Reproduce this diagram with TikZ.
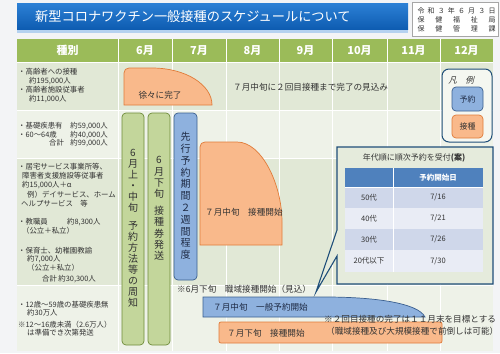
\documentclass[tikz,border=0pt]{standalone}
\usepackage{fontspec}
\setmainfont{Noto Sans CJK JP}
\definecolor{pagebg}{HTML}{F3F4F6}
\definecolor{hdrgreen}{HTML}{9BBB59}
\definecolor{rowA}{HTML}{E1E8D6}
\definecolor{rowB}{HTML}{EEF2E8}
\definecolor{orfill}{HTML}{F9B98B}
\definecolor{ordraw}{HTML}{E07B39}
\definecolor{grfill}{HTML}{C3D69B}
\definecolor{grdraw}{HTML}{6E8C3A}
\definecolor{blfill}{HTML}{8EB1DE}
\definecolor{bldraw}{HTML}{3A5F8F}
\definecolor{navy}{HTML}{1F4E79}
\definecolor{txt}{HTML}{333333}
\definecolor{bltxt}{HTML}{1E2A44}
\definecolor{tblhead}{HTML}{4F81BD}
\definecolor{tblodd}{HTML}{CFD7EA}
\definecolor{tbleven}{HTML}{E9ECF5}
\definecolor{callfill}{HTML}{E5EBDC}
\definecolor{titletop}{HTML}{2B7FD4}
\definecolor{titlebot}{HTML}{0D5BB0}
\tikzset{
 lefttxt/.style={anchor=west, inner sep=0, font=\fontsize{7.4}{8}\selectfont, text=txt},
 lefttxtr/.style={anchor=east, inner sep=0, font=\fontsize{7.4}{8}\selectfont, text=txt},
 lbl/.style={inner sep=0, font=\fontsize{8.6}{10}\selectfont, text=txt},
 hdr/.style={inner sep=0, font=\fontsize{11}{13}\selectfont\bfseries, text=white},
 orshape/.style={fill=orfill, draw=ordraw, line width=0.7pt},
 blshape/.style={fill=blfill, draw=bldraw, line width=0.7pt},
 grbar/.style={fill=grfill, draw=grdraw, line width=0.7pt, rounded corners=4pt, inner sep=0},
 blbar/.style={fill=blfill, draw=bldraw, line width=0.7pt, rounded corners=4pt, inner sep=0},
 vtxt/.style={inner sep=0, align=center, text=txt},
 datetxt/.style={inner sep=0, font=\fontsize{7}{8}\selectfont, text=txt},
 tcell/.style={inner sep=0, font=\fontsize{7.5}{9}\selectfont, text=txt},
 grid/.style={white, line width=0.8pt},
}
\begin{document}
\begin{tikzpicture}[x=1pt,y=-1pt]
\useasboundingbox (0,0) rectangle (500,353);
\fill[pagebg] (0,0) rectangle (500,353);
% title
\fill[titletop!35] (17,28) rectangle (408,33);
\shade[top color=titletop, bottom color=titlebot] (17,4) rectangle (408,30);
\node[anchor=west, inner sep=0, text=white, font=\fontsize{13.2}{15}\selectfont] (title) at (35,17) {新型コロナワクチン一般接種のスケジュールについて};
% date box
\draw[gray!70, fill=white, line width=0.6pt] (412,2) rectangle (498,36);
\node[datetxt] (d1) at (456.5,11) {\makebox[78pt][s]{令\hfill 和\hfill ３\hfill 年\hfill ６\hfill 月\hfill ３\hfill 日}};
\node[datetxt] (d2) at (456.5,20) {\makebox[78pt][s]{保\hfill 健\hfill 福\hfill 祉\hfill 局}};
\node[datetxt] (d3) at (456.5,29) {\makebox[78pt][s]{保\hfill 健\hfill 管\hfill 理\hfill 課}};
% table background
\fill[hdrgreen] (17,39) rectangle (493,62);
\fill[rowA] (17,62) rectangle (493,110);
\fill[rowB] (17,110) rectangle (493,158);
\fill[rowA] (17,158) rectangle (493,285);
\fill[rowB] (17,285) rectangle (493,351);
\foreach \xx in {118,172,226,279,332,387,440} \draw[grid] (\xx,39) -- (\xx,351);
\foreach \yy in {62,110,158,285} \draw[grid] (17,\yy) -- (493,\yy);
% header
\node[hdr] (h0) at (67.5,50.5) {種別};
\node[hdr] (h6) at (145,50.5) {6月};
\node[hdr] (h7) at (199,50.5) {7月};
\node[hdr] (h8) at (252.5,50.5) {8月};
\node[hdr] (h9) at (305.5,50.5) {9月};
\node[hdr] (h10) at (359.5,50.5) {10月};
\node[hdr] (h11) at (413.5,50.5) {11月};
\node[hdr] (h12) at (466.5,50.5) {12月};
% left column texts
\node[lefttxt] (r1a) at (18,72) {・高齢者への接種};
\node[lefttxt] (r1b) at (29,81) {約195,000人};
\node[lefttxt] (r1c) at (18,90) {・高齢者施設従事者};
\node[lefttxt] (r1d) at (29,99) {約11,000人};
\node[lefttxt] (r2a) at (18,126) {・基礎疾患有};
\node[lefttxtr] (r2an) at (108,126) {約59,000人};
\node[lefttxt] (r2b) at (18,135) {・60～64歳};
\node[lefttxtr] (r2bn) at (108,135) {約40,000人};
\node[lefttxt] (r2c) at (49,143) {合計};
\node[lefttxtr] (r2cn) at (108,143) {約99,000人};
\node[lefttxt] (r3a) at (18,167) {・居宅サービス事業所等、};
\node[lefttxt] (r3b) at (22,176) {障害者支援施設等従事者};
\node[lefttxt] (r3c) at (22,185) {約15,000人＋α};
\node[lefttxt] (r3d) at (27,195) {例）デイサービス、ホーム};
\node[lefttxt] (r3e) at (21,204) {ヘルプサービス　等};
\node[lefttxt] (r3f) at (18,222) {・教職員};
\node[lefttxt] (r3fn) at (67,222) {約8,300人};
\node[lefttxt] (r3g) at (22,231) {（公立＋私立）};
\node[lefttxt] (r3h) at (18,251) {・保育士、幼稚園教諭};
\node[lefttxt] (r3i) at (27,259) {約7,000人};
\node[lefttxt] (r3j) at (27,268) {（公立＋私立）};
\node[lefttxt] (r3k) at (42,279) {合計};
\node[lefttxtr] (r3kn) at (96,279) {約30,300人};
\node[lefttxt] (r4a) at (18,305) {・12歳～59歳の基礎疾患無};
\node[lefttxt] (r4b) at (27,313) {約30万人};
\node[lefttxt] (r4c) at (18,325) {※12～16歳未満（2.6万人）};
\node[lefttxt] (r4d) at (27,333) {は準備でき次第発送};
% row 1 orange
\draw[orshape] (124,105) -- (124,73) .. controls (124,70) and (126,68) .. (129,68) -- (152,68) .. controls (186,68) and (212,85) .. (212,105) -- cycle;
\node[lbl] (gradual) at (160,95) {徐々に完了};
\node[lbl, anchor=west] (note1) at (233,87) {７月中旬に２回目接種まで完了の見込み};
% legend
\draw[navy, line width=1pt, fill=rowB!60!white, rounded corners=7pt] (442,69) rectangle (492,142);
\begin{scope}[shift={(462,80)}, xslant=0.25]
\node[transform shape, inner sep=0, font=\fontsize{8.5}{10}\selectfont, text=txt] (legtitle) at (0,0) {凡　例};
\end{scope}
\node[blbar, minimum width=31pt, minimum height=24pt, font=\fontsize{8}{10}\selectfont, text=bltxt] (legres) at (467.5,99) {予約};
\node[orshape, rounded corners=4pt, inner sep=0, minimum width=31pt, minimum height=23pt, font=\fontsize{8}{10}\selectfont, text=txt] (legvac) at (467.5,126.5) {接種};
% vertical bars
\node[grbar, minimum width=22pt, minimum height=232pt] (bar1) at (133,229) {};
\node[vtxt, font=\fontsize{10}{11}\selectfont] (bar1t) at (133,228) {6\\月\\上\\・\\中\\旬\\[7pt]予\\約\\方\\法\\等\\の\\周\\知};
\node[grbar, minimum width=22pt, minimum height=232pt] (bar2) at (159,229) {};
\node[vtxt, font=\fontsize{10}{11.2}\selectfont] (bar2t) at (159,208.5) {6\\月\\下\\旬\\[6pt]接\\種\\券\\発\\送};
\node[blbar, minimum width=23pt, minimum height=167pt] (bar3) at (185.5,196.5) {};
\node[vtxt, text=bltxt, font=\fontsize{10}{11.8}\selectfont] (bar3t) at (185.5,196) {先\\行\\予\\約\\期\\間\\２\\週\\間\\程\\度};
% row 3 orange
\draw[orshape] (200,245) -- (200,147) .. controls (200,144) and (202,142) .. (205,142) -- (237,142) .. controls (262,142) and (282,185) .. (282,222) -- (282,245) -- cycle;
\node[lbl, anchor=west] (vacjul) at (205,212) {７月中旬　接種開始};
% callout
\draw[navy, line width=1.1pt, fill=callfill, line join=miter] (337,147) -- (493,147) -- (493,284) -- (337,284) -- (337,256) -- (316,292) -- (337,230) -- cycle;
\node[inner sep=0, font=\fontsize{8}{10}\selectfont, text=txt] (calltitle) at (414,158) {年代順に順次予約を受付\textbf{(案)}};
\fill[tblhead] (345,168) rectangle (483,187);
\fill[tblodd] (345,187) rectangle (483,208);
\fill[tbleven] (345,208) rectangle (483,229);
\fill[tblodd] (345,229) rectangle (483,250);
\fill[tbleven] (345,250) rectangle (483,272);
\draw[white, line width=1pt] (393,168) -- (393,272);
\draw[white, line width=0.8pt] (345,187) -- (483,187);
\node[tcell, text=white, font=\fontsize{7.5}{9}\selectfont\bfseries] (thd) at (438,177.5) {予約開始日};
\node[tcell] (a50) at (369,197.5) {50代};
\node[tcell] (d50) at (438,197.5) {7/16};
\node[tcell] (a40) at (369,218.5) {40代};
\node[tcell] (d40) at (438,218.5) {7/21};
\node[tcell] (a30) at (369,239.5) {30代};
\node[tcell] (d30) at (438,239.5) {7/26};
\node[tcell] (a20) at (369,261) {20代以下};
\node[tcell] (d20) at (438,261) {7/30};
% bottom row
\node[lbl, anchor=west] (occ) at (177,289) {※6月下旬　職域接種開始（見込）};
\draw[blshape] (203,297) -- (325,297) .. controls (375,297) and (418,303) .. (425,317) -- (203,317) -- cycle;
\node[lbl, anchor=west, text=bltxt] (genres) at (213,307) {７月中旬　一般予約開始};
\draw[orshape, rounded corners=2pt] (219,322) rectangle (442,343);
\node[lbl, anchor=west] (genvac) at (227,333) {７月下旬　接種開始};
\node[lbl, anchor=west] (note2a) at (324,319) {※２回目接種の完了は１１月末を目標とする};
\node[lbl, anchor=west] (note2b) at (326,331) {（職域接種及び大規模接種で前倒しは可能）};
\end{tikzpicture}
\end{document}
